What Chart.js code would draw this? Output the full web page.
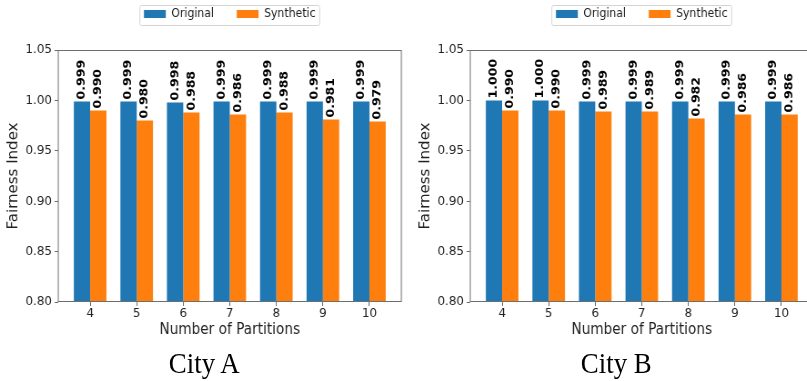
<!DOCTYPE html>
<html>
<head>
<meta charset="utf-8">
<script src="https://cdn.jsdelivr.net/npm/chart.js@4.4.0/dist/chart.umd.min.js"></script>
<style>
  html, body { margin: 0; padding: 0; background: #fff; overflow: hidden; width: 807px; height: 381px; }
  /* the reference is squeezed sideways, so each panel is drawn wider and scaled back */
  .panel { position: absolute; top: 0; width: 450px; height: 381px; transform: scaleX(0.91); transform-origin: 0 0; }
  .panel canvas { position: absolute; left: 0; top: 0; }
  .city { position: absolute; left: 0; width: 449px; top: 348px; text-align: center;
          font-family: "Liberation Serif", "Times New Roman", serif; font-size: 29.5px; line-height: 30px; color: #000; }
</style>
</head>
<body>
<div class="panel" style="left:0"><canvas id="chartA" width="450" height="340"></canvas><div class="city">City A</div></div>
<div class="panel" style="left:412px"><canvas id="chartB" width="450" height="340"></canvas><div class="city">City B</div></div>
<script>
// data
const partitions = ['4', '5', '6', '7', '8', '9', '10'];
const seriesNames = ['Original', 'Synthetic'];
const seriesColors = ['#1f77b4', '#ff7f0e'];
const cityAOriginal = [0.999, 0.999, 0.998, 0.999, 0.999, 0.999, 0.999];
const cityASynthetic = [0.990, 0.980, 0.988, 0.986, 0.988, 0.981, 0.979];
const cityBOriginal = [1.000, 1.000, 0.999, 0.999, 0.999, 0.999, 0.999];
const cityBSynthetic = [0.990, 0.990, 0.989, 0.989, 0.982, 0.986, 0.986];
const yTicks = [0.80, 0.85, 0.90, 0.95, 1.00, 1.05];

const axisColor = '#6e6e6e';
const textColor = '#222';
Chart.defaults.font.family = '"DejaVu Sans", sans-serif';
Chart.defaults.color = textColor;

// legend gets a fixed height so the plot starts where the reference one does
const legendSpace = {
  id: 'legendSpace',
  beforeLayout(chart) {
    const lg = chart.legend;
    if (!lg || lg._fixed) return;
    const fit = lg.fit;
    lg.fit = function () { fit.call(this); this.height = 67; };
    lg._fixed = true;
  }
};

// thin rounded frame round the legend, like matplotlib
const legendFrame = {
  id: 'legendFrame',
  afterDraw(chart) {
    const boxes = chart.legend.legendHitBoxes;
    if (!boxes || !boxes.length) return;
    const last = boxes[boxes.length - 1];
    const l = boxes[0].left - 4.5, r = last.left + last.width + 4.5;
    const t = boxes[0].top - 3, b = boxes[0].top + boxes[0].height + 5;
    const ctx = chart.ctx;
    ctx.save();
    ctx.strokeStyle = '#d4d4d4';
    ctx.lineWidth = 1;
    ctx.beginPath();
    ctx.roundRect(l, Math.round(t) + 0.5, r - l, Math.round(b - t), 2);
    ctx.stroke();
    ctx.restore();
  }
};

// box round the plot area
const axesFrame = {
  id: 'axesFrame',
  afterDatasetsDraw(chart) {
    const a = chart.chartArea;
    const ctx = chart.ctx;
    ctx.save();
    ctx.strokeStyle = axisColor;
    ctx.lineWidth = 1;
    ctx.strokeRect(a.left, a.top + 0.5, a.right - a.left, a.bottom - a.top - 1);
    ctx.restore();
  }
};

// rotated value above every bar
const barValues = {
  id: 'barValues',
  afterDatasetsDraw(chart) {
    const ctx = chart.ctx;
    ctx.save();
    ctx.font = 'bold 12.5px "DejaVu Sans"';
    ctx.fillStyle = '#000';
    ctx.textAlign = 'left';
    ctx.textBaseline = 'middle';
    chart.data.datasets.forEach((ds, di) => {
      chart.getDatasetMeta(di).data.forEach((bar, i) => {
        ctx.save();
        ctx.translate(bar.x, bar.y - 2);
        ctx.rotate(-Math.PI / 2);
        ctx.fillText(ds.data[i].y.toFixed(3), 0, 0);
        ctx.restore();
      });
    });
    ctx.restore();
  }
};

function makeChart(id, original, synthetic) {
  const series = [original, synthetic];
  return new Chart(document.getElementById(id), {
    type: 'bar',
    data: {
      datasets: series.map((vals, s) => ({
        label: seriesNames[s],
        data: vals.map((v, i) => ({ x: i, y: v })),
        backgroundColor: seriesColors[s],
        borderWidth: 0,
        categoryPercentage: 0.7,
        barPercentage: 1.0
      }))
    },
    options: {
      responsive: false,
      devicePixelRatio: 1,
      animation: false,
      layout: { padding: { top: -17, left: 0, right: 9, bottom: 0 } },
      plugins: {
        tooltip: { enabled: false },
        legend: {
          position: 'top',
          fullSize: false,
          labels: { boxWidth: 24, boxHeight: 8, padding: 25, font: { size: 12 }, color: textColor }
        }
      },
      scales: {
        x: {
          type: 'linear',
          min: -0.685,
          max: 6.685,
          offset: false,
          afterFit(scale) { scale.height = 38; },
          border: { display: false },
          grid: { offset: false, drawOnChartArea: false, drawTicks: true, tickLength: 4, color: axisColor },
          ticks: {
            stepSize: 1,
            includeBounds: false,
            padding: 0,
            font: { size: 13 },
            color: textColor,
            maxRotation: 0,
            callback: (v) => partitions[v] ?? ''
          },
          title: { display: true, text: 'Number of Partitions', font: { size: 15 }, color: textColor, padding: { top: 0, bottom: 1 } }
        },
        y: {
          min: 0.80,
          max: 1.05,
          afterFit(scale) { scale.width = 64; },
          afterBuildTicks(scale) { scale.ticks = yTicks.map(v => ({ value: v })); },
          border: { display: false },
          grid: { drawOnChartArea: false, drawTicks: true, tickLength: 4, color: axisColor },
          ticks: { padding: 3, font: { size: 13 }, color: textColor, callback: (v) => Number(v).toFixed(2) },
          title: { display: true, text: 'Fairness Index', font: { size: 15 }, color: textColor, padding: { top: 6, bottom: 0 } }
        }
      }
    },
    plugins: [legendSpace, legendFrame, axesFrame, barValues]
  });
}

makeChart('chartA', cityAOriginal, cityASynthetic);
makeChart('chartB', cityBOriginal, cityBSynthetic);
</script>
</body>
</html>
